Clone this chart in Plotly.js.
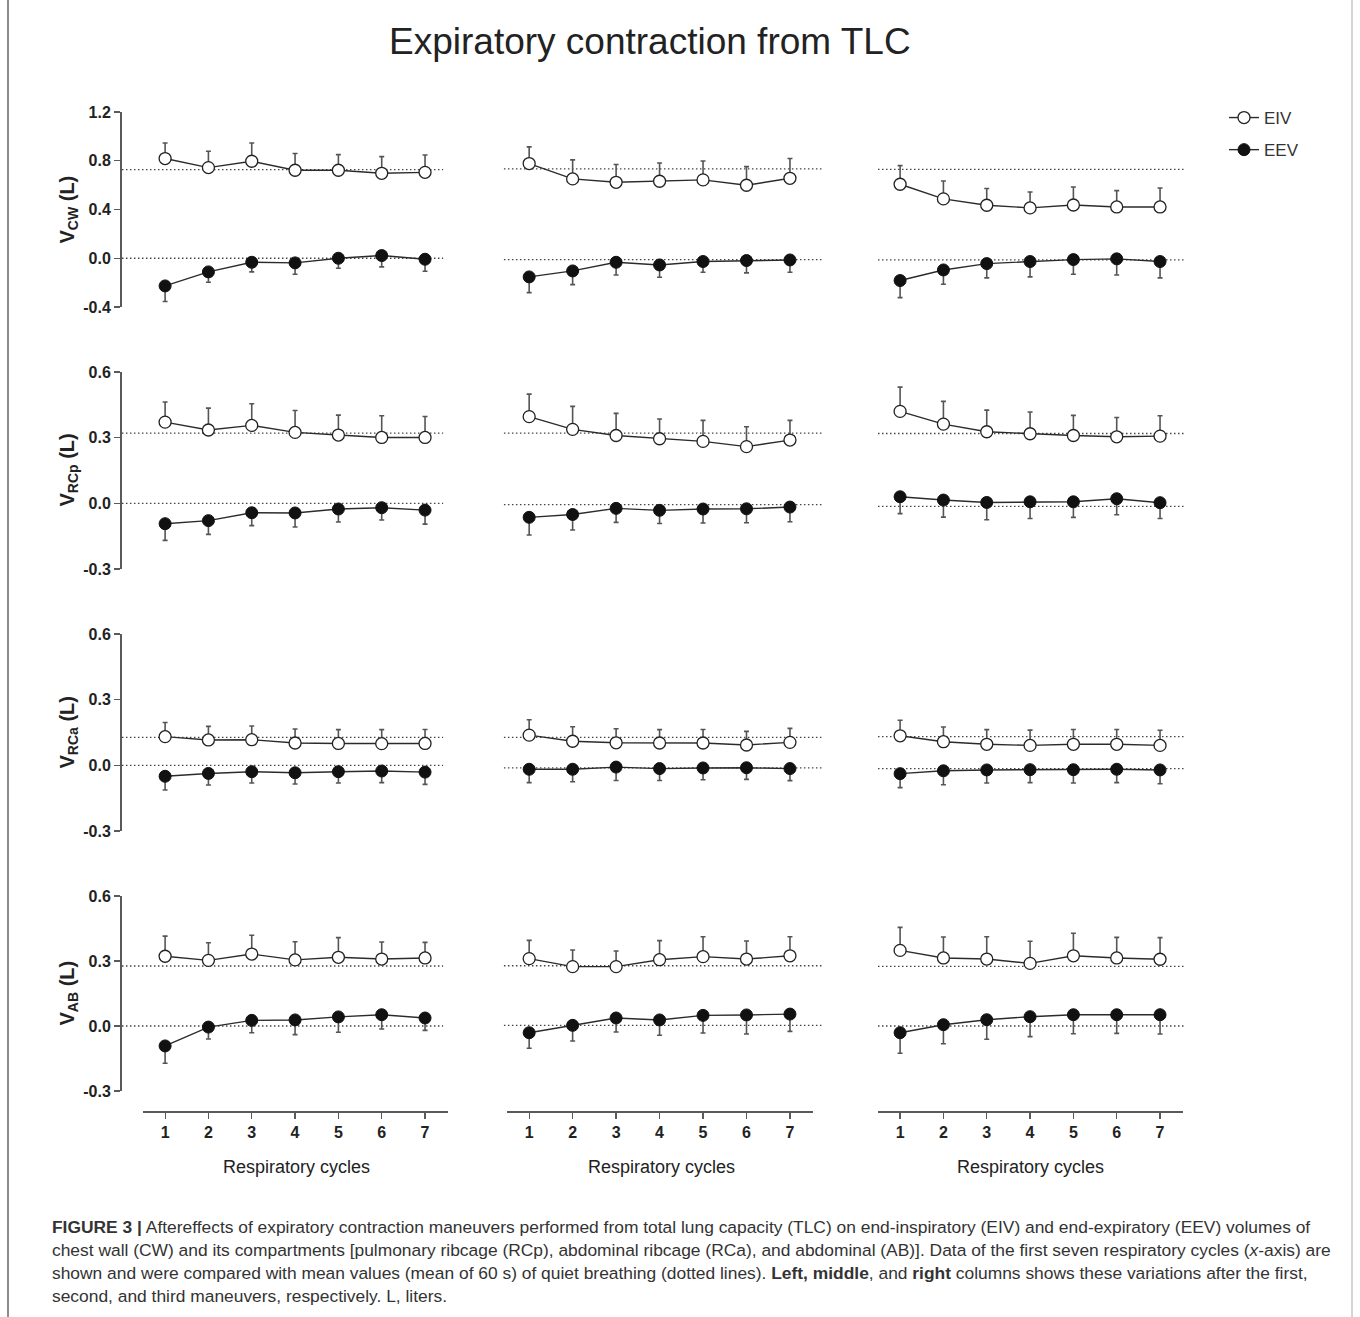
<!DOCTYPE html>
<html>
<head>
<meta charset="utf-8">
<script src="https://cdn.plot.ly/plotly-3.0.1.min.js"></script>
<style>
html,body{margin:0;padding:0;background:#fff;}
#chart{width:1360px;height:1317px;}
</style>
</head>
<body>
<div id="chart"></div>
<script>
// ---------------- DATA ----------------
const cycles = [1, 2, 3, 4, 5, 6, 7];
const rowLabels = ["V<sub>CW</sub> (L)", "V<sub>RCp</sub> (L)", "V<sub>RCa</sub> (L)", "V<sub>AB</sub> (L)"];

// Chest wall (CW): [left, middle, right]
const cw_eiv = [
  [0.818, 0.744, 0.796, 0.722, 0.722, 0.697, 0.705],
  [0.777, 0.651, 0.623, 0.632, 0.643, 0.599, 0.656],
  [0.607, 0.487, 0.435, 0.413, 0.437, 0.421, 0.421]
];
const cw_eiv_sd = [
  [0.128, 0.134, 0.150, 0.137, 0.128, 0.137, 0.142],
  [0.137, 0.156, 0.146, 0.150, 0.155, 0.153, 0.162],
  [0.153, 0.147, 0.137, 0.131, 0.148, 0.134, 0.156]
];
const cw_eev = [
  [-0.227, -0.112, -0.033, -0.038, 0.000, 0.022, -0.008],
  [-0.153, -0.104, -0.033, -0.055, -0.027, -0.019, -0.014],
  [-0.183, -0.096, -0.044, -0.027, -0.011, -0.005, -0.027]
];
const cw_eev_sd = [
  [0.128, 0.085, 0.079, 0.093, 0.082, 0.093, 0.099],
  [0.129, 0.112, 0.104, 0.101, 0.088, 0.101, 0.101],
  [0.140, 0.117, 0.117, 0.126, 0.120, 0.132, 0.134]
];
const cw_qb_eiv = [0.727, 0.733, 0.730];
const cw_qb_eev = [0.000, -0.011, -0.014];

// Pulmonary ribcage (RCp)
const rcp_eiv = [
  [0.371, 0.335, 0.356, 0.324, 0.312, 0.301, 0.301],
  [0.396, 0.338, 0.310, 0.295, 0.283, 0.259, 0.289],
  [0.420, 0.362, 0.327, 0.318, 0.310, 0.304, 0.307]
];
const rcp_eiv_sd = [
  [0.092, 0.100, 0.099, 0.100, 0.091, 0.099, 0.096],
  [0.103, 0.105, 0.101, 0.090, 0.096, 0.091, 0.090],
  [0.111, 0.104, 0.099, 0.099, 0.092, 0.088, 0.093]
];
const rcp_eev = [
  [-0.093, -0.079, -0.043, -0.044, -0.026, -0.020, -0.031],
  [-0.064, -0.051, -0.023, -0.032, -0.026, -0.025, -0.017],
  [0.030, 0.015, 0.004, 0.007, 0.007, 0.021, 0.003]
];
const rcp_eev_sd = [
  [0.076, 0.063, 0.059, 0.064, 0.059, 0.056, 0.064],
  [0.081, 0.071, 0.064, 0.060, 0.064, 0.064, 0.067],
  [0.077, 0.078, 0.079, 0.076, 0.071, 0.073, 0.072]
];
const rcp_qb_eiv = [0.321, 0.321, 0.319];
const rcp_qb_eev = [0.000, -0.006, -0.014];

// Abdominal ribcage (RCa)
const rca_eiv = [
  [0.131, 0.116, 0.117, 0.102, 0.100, 0.099, 0.100],
  [0.138, 0.110, 0.103, 0.102, 0.102, 0.093, 0.105],
  [0.135, 0.108, 0.096, 0.091, 0.096, 0.096, 0.091]
];
const rca_eiv_sd = [
  [0.065, 0.062, 0.063, 0.064, 0.063, 0.064, 0.064],
  [0.070, 0.066, 0.064, 0.061, 0.062, 0.062, 0.064],
  [0.071, 0.067, 0.067, 0.070, 0.068, 0.068, 0.069]
];
const rca_eev = [
  [-0.050, -0.037, -0.029, -0.034, -0.029, -0.026, -0.031],
  [-0.018, -0.018, -0.008, -0.015, -0.012, -0.011, -0.015],
  [-0.038, -0.025, -0.021, -0.020, -0.020, -0.018, -0.021]
];
const rca_eev_sd = [
  [0.063, 0.053, 0.052, 0.051, 0.052, 0.053, 0.056],
  [0.061, 0.057, 0.061, 0.054, 0.054, 0.053, 0.055],
  [0.064, 0.064, 0.060, 0.059, 0.061, 0.061, 0.063]
];
const rca_qb_eiv = [0.128, 0.128, 0.131];
const rca_qb_eev = [0.000, -0.012, -0.015];

// Abdominal (AB)
const ab_eiv = [
  [0.322, 0.303, 0.332, 0.305, 0.317, 0.309, 0.314],
  [0.311, 0.274, 0.274, 0.306, 0.320, 0.309, 0.324],
  [0.349, 0.314, 0.309, 0.289, 0.324, 0.314, 0.308]
];
const ab_eiv_sd = [
  [0.093, 0.081, 0.087, 0.084, 0.091, 0.079, 0.072],
  [0.084, 0.077, 0.072, 0.088, 0.092, 0.083, 0.088],
  [0.106, 0.097, 0.103, 0.102, 0.104, 0.095, 0.100]
];
const ab_eev = [
  [-0.092, -0.005, 0.026, 0.028, 0.042, 0.052, 0.037],
  [-0.031, 0.003, 0.037, 0.028, 0.049, 0.051, 0.055],
  [-0.031, 0.006, 0.029, 0.043, 0.052, 0.052, 0.052]
];
const ab_eev_sd = [
  [0.080, 0.055, 0.057, 0.068, 0.071, 0.066, 0.057],
  [0.072, 0.072, 0.065, 0.071, 0.081, 0.088, 0.080],
  [0.095, 0.088, 0.090, 0.092, 0.088, 0.086, 0.089]
];
const ab_qb_eiv = [0.277, 0.278, 0.275];
const ab_qb_eev = [0.000, 0.003, 0.000];

// Axis ticks per row
const yTickVals = [
  [-0.4, 0.0, 0.4, 0.8, 1.2],
  [-0.3, 0.0, 0.3, 0.6],
  [-0.3, 0.0, 0.3, 0.6],
  [-0.3, 0.0, 0.3, 0.6]
];
const yTickText = [
  ["-0.4", "0.0", "0.4", "0.8", "1.2"],
  ["-0.3", "0.0", "0.3", "0.6"],
  ["-0.3", "0.0", "0.3", "0.6"],
  ["-0.3", "0.0", "0.3", "0.6"]
];
const xTickText = ["1", "2", "3", "4", "5", "6", "7"];
const seriesNames = ["EIV", "EEV"];

// ---------------- LAYOUT GEOMETRY (pixels) ----------------
const W = 1360, H = 1317;
const fx = px => px / W;
const fy = px => 1 - px / H;

const colDomPx = [[143, 448], [507, 813], [878, 1183]];
const rowDomPx = [[112, 307], [372, 569], [634, 831], [896, 1091]];
const rowRanges = [[-0.4, 1.2], [-0.3, 0.6], [-0.3, 0.6], [-0.3, 0.6]];
const xRange = [0.49, 7.53];
const yAxisPx = 120;
const xAxisBottomPx = 1111;
// dotted-line horizontal extents per column (fraction of x domain)
const dotExt = [[-0.069, 0.984], [-0.01, 1.033], [0.0, 1.007]];

const rows = [
  {eiv: cw_eiv, eivsd: cw_eiv_sd, eev: cw_eev, eevsd: cw_eev_sd, qb1: cw_qb_eiv, qb2: cw_qb_eev},
  {eiv: rcp_eiv, eivsd: rcp_eiv_sd, eev: rcp_eev, eevsd: rcp_eev_sd, qb1: rcp_qb_eiv, qb2: rcp_qb_eev},
  {eiv: rca_eiv, eivsd: rca_eiv_sd, eev: rca_eev, eevsd: rca_eev_sd, qb1: rca_qb_eiv, qb2: rca_qb_eev},
  {eiv: ab_eiv, eivsd: ab_eiv_sd, eev: ab_eev, eevsd: ab_eev_sd, qb1: ab_qb_eiv, qb2: ab_qb_eev}
];

const FONT = "Liberation Sans, Arial, Helvetica, sans-serif";
const LINEC = "#2b2b2b";
const ERRC = "#555555";
const AXC = "#5a5a5a";

const traces = [];
const shapes = [];
const annotations = [];
const layout = {
  width: W, height: H,
  margin: {l: 0, r: 0, t: 0, b: 0},
  paper_bgcolor: "#ffffff",
  plot_bgcolor: "rgba(0,0,0,0)",
  font: {family: FONT, color: "#222"},
  showlegend: true,
  legend: {
    x: fx(1224), y: fy(100), xanchor: "left", yanchor: "top",
    font: {size: 17, color: "#333", family: FONT},
    bgcolor: "rgba(0,0,0,0)",
    tracegroupgap: 7,
    itemwidth: 30
  }
};

const zeros = cycles.map(() => 0);

for (let r = 0; r < 4; r++) {
  for (let c = 0; c < 3; c++) {
    const idx = r * 3 + c + 1;
    const xa = "x" + idx, ya = "y" + idx;
    const xk = "xaxis" + (idx === 1 ? "" : idx);
    const yk = "yaxis" + (idx === 1 ? "" : idx);
    const d = rows[r];
    const bottom = (r === 3);

    const xax = {
      domain: [fx(colDomPx[c][0]), fx(colDomPx[c][1])],
      range: xRange,
      anchor: bottom ? "free" : ya,
      showgrid: false, zeroline: false,
      fixedrange: true
    };
    if (bottom) {
      Object.assign(xax, {
        position: fy(xAxisBottomPx),
        showline: true, linecolor: AXC, linewidth: 1.5,
        ticks: "outside", ticklen: 6, tickwidth: 1.2, tickcolor: AXC,
        tickvals: cycles, ticktext: xTickText,
        tickfont: {size: 16, family: FONT, color: "#222", weight: "bold"}
      });
    } else {
      Object.assign(xax, {visible: false});
    }
    layout[xk] = xax;

    const left = (c === 0);
    const yax = {
      domain: [fy(rowDomPx[r][1]), fy(rowDomPx[r][0])],
      range: rowRanges[r],
      showgrid: false, zeroline: false,
      fixedrange: true
    };
    if (left) {
      Object.assign(yax, {
        anchor: "free", position: fx(yAxisPx),
        showline: true, linecolor: AXC, linewidth: 1.5,
        ticks: "outside", ticklen: 6, tickwidth: 1.2, tickcolor: AXC,
        tickvals: yTickVals[r], ticktext: yTickText[r],
        tickfont: {size: 16, family: FONT, color: "#222", weight: "bold"}
      });
    } else {
      Object.assign(yax, {anchor: xa, visible: false});
    }
    layout[yk] = yax;

    // quiet-breathing dotted reference lines
    [d.qb1[c], d.qb2[c]].forEach(v => {
      shapes.push({
        type: "line", xref: xa + " domain", yref: ya,
        x0: dotExt[c][0], x1: dotExt[c][1], y0: v, y1: v,
        line: {color: "#444", width: 1.3, dash: "1.5px,2.5px"},
        layer: "below"
      });
    });

    // EEV (filled)
    traces.push({
      type: "scatter", mode: "lines+markers",
      x: cycles, y: d.eev[c], xaxis: xa, yaxis: ya,
      name: seriesNames[1], legendgroup: "eev", legendrank: 2,
      showlegend: idx === 1,
      line: {color: LINEC, width: 1.4},
      marker: {symbol: "circle", size: 12, color: "#111", line: {color: "#111", width: 1}},
      error_y: {type: "data", symmetric: false, array: zeros, arrayminus: d.eevsd[c],
                color: ERRC, thickness: 1.6, width: 2.5},
      cliponaxis: false, hoverinfo: "skip"
    });
    // EIV (open)
    traces.push({
      type: "scatter", mode: "lines+markers",
      x: cycles, y: d.eiv[c], xaxis: xa, yaxis: ya,
      name: seriesNames[0], legendgroup: "eiv", legendrank: 1,
      showlegend: idx === 1,
      line: {color: LINEC, width: 1.4},
      marker: {symbol: "circle", size: 12, color: "#ffffff", line: {color: "#222", width: 1.3}},
      error_y: {type: "data", symmetric: false, array: d.eivsd[c], arrayminus: zeros,
                color: ERRC, thickness: 1.6, width: 2.5},
      cliponaxis: false, hoverinfo: "skip"
    });
  }
  // y axis title (row label)
  annotations.push({
    xref: "paper", yref: "paper",
    x: fx(68), y: fy((rowDomPx[r][0] + rowDomPx[r][1]) / 2),
    text: "<b>" + rowLabels[r] + "</b>", textangle: -90, showarrow: false,
    font: {size: 20, family: FONT, color: "#222"},
    xanchor: "center", yanchor: "middle"
  });
}

// x axis titles
const xTitleCenters = [296, 661, 1030];
xTitleCenters.forEach(cx => {
  annotations.push({
    xref: "paper", yref: "paper", x: fx(cx), y: fy(1167),
    text: "Respiratory cycles", showarrow: false,
    font: {size: 18, family: FONT, color: "#222"},
    xanchor: "center", yanchor: "middle"
  });
});

// main title
annotations.push({
  xref: "paper", yref: "paper", x: fx(650), y: fy(41),
  text: "Expiratory contraction from TLC", showarrow: false,
  font: {size: 37, family: FONT, color: "#222"},
  xanchor: "center", yanchor: "middle"
});

// caption
const captionLines = [
  "<b>FIGURE 3 |</b> Aftereffects of expiratory contraction maneuvers performed from total lung capacity (TLC) on end-inspiratory (EIV) and end-expiratory (EEV) volumes of",
  "chest wall (CW) and its compartments [pulmonary ribcage (RCp), abdominal ribcage (RCa), and abdominal (AB)]. Data of the first seven respiratory cycles (<i>x</i>-axis) are",
  "shown and were compared with mean values (mean of 60 s) of quiet breathing (dotted lines). <b>Left, middle</b>, and <b>right</b> columns shows these variations after the first,",
  "second, and third maneuvers, respectively. L, liters."
];
const captionY = [1227, 1250, 1273, 1296];
captionLines.forEach((t, i) => {
  annotations.push({
    xref: "paper", yref: "paper", x: fx(50), y: fy(captionY[i]),
    text: t, showarrow: false,
    font: {size: 17.4, family: FONT, color: "#333"},
    xanchor: "left", yanchor: "middle"
  });
});

// frame lines
shapes.push({type: "line", xref: "paper", yref: "paper", x0: fx(8), x1: fx(8), y0: 0, y1: 1,
             line: {color: "#666", width: 1.5}});
shapes.push({type: "line", xref: "paper", yref: "paper", x0: fx(1352), x1: fx(1352), y0: 0, y1: 1,
             line: {color: "#aaa", width: 1}});

layout.shapes = shapes;
layout.annotations = annotations;

Plotly.newPlot("chart", traces, layout, {displayModeBar: false, staticPlot: true});
</script>
</body>
</html>
